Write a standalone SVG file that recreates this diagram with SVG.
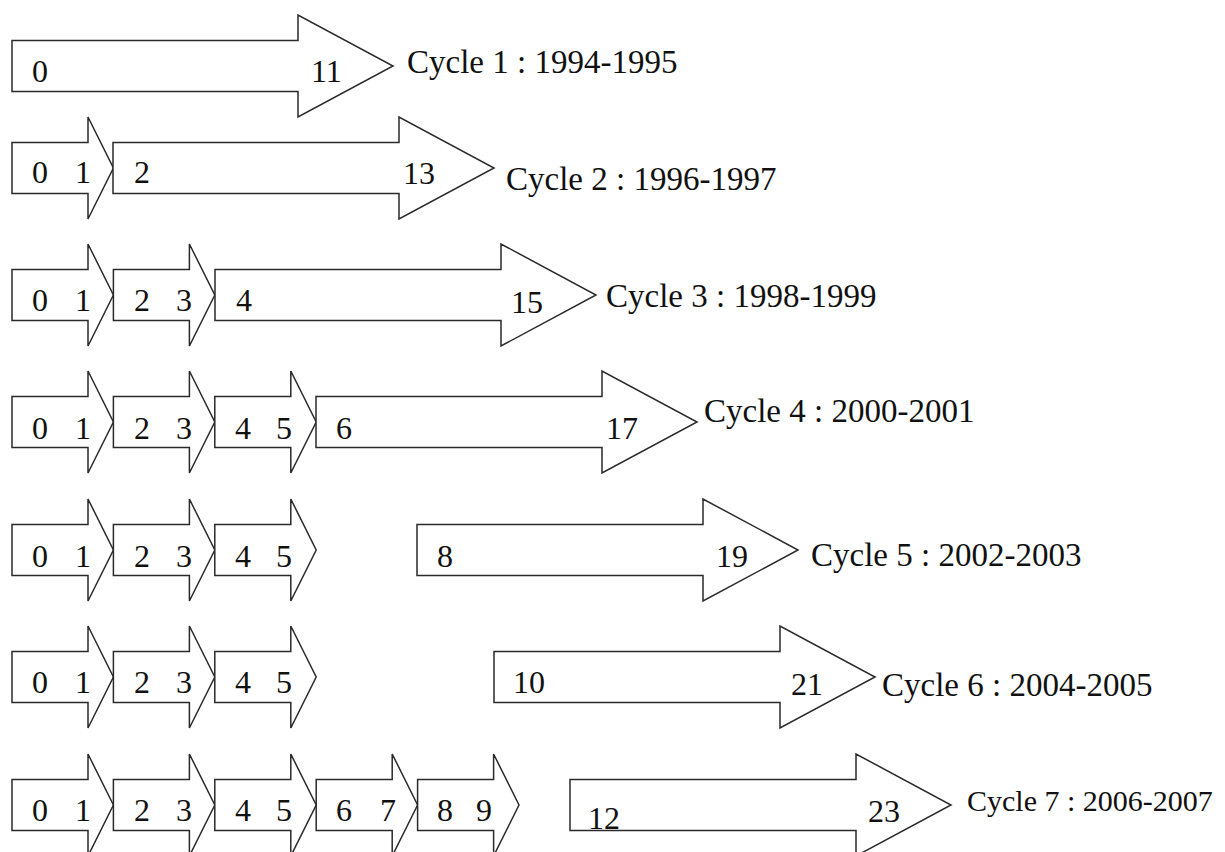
<svg xmlns="http://www.w3.org/2000/svg" xmlns:xlink="http://www.w3.org/1999/xlink" width="1225" height="852" viewBox="0 0 1225 852">
<style>
.a{fill:#fff;stroke:#2a2a2a;stroke-width:1.5;stroke-linejoin:miter}
.n{font-family:"Liberation Serif","Times New Roman",serif;font-size:32px;fill:#111}
.l{font-family:"Liberation Serif","Times New Roman",serif;font-size:33px;fill:#111}
</style>
<defs>
<path id="sm" class="a" d="M0,-25.5 H76 V-51 L101.4,0 L76,51 V25.5 H0 Z"/>
<path id="bg" class="a" d="M0,-25.5 H286 V-51 L381,0 L286,51 V25.5 H0 Z"/>
</defs>
<rect width="1225" height="852" fill="#fff"/>
<g id="connectors"/>

<g id="row1">
<g id="r1-big"><use href="#bg" x="12" y="66"/><text class="n" x="32" y="82">0</text><text class="n" x="311" y="82">11</text></g>
<text class="l" x="407" y="73">Cycle 1 : 1994-1995</text>
</g>

<g id="row2">
<g id="r2-s0"><use href="#sm" x="12" y="168"/><text class="n" x="32" y="183">0</text><text class="n" x="75" y="183">1</text></g>
<g id="r2-big"><use href="#bg" x="113" y="168"/><text class="n" x="134" y="183">2</text><text class="n" x="403" y="184">13</text></g>
<text class="l" x="506" y="190">Cycle 2 : 1996-1997</text>
</g>

<g id="row3">
<g id="r3-s0"><use href="#sm" x="12" y="295"/><text class="n" x="32" y="311">0</text><text class="n" x="75" y="311">1</text></g>
<g id="r3-s1"><use href="#sm" x="113.4" y="295"/><text class="n" x="134" y="311">2</text><text class="n" x="176" y="311">3</text></g>
<g id="r3-big"><use href="#bg" x="215" y="295"/><text class="n" x="236" y="311">4</text><text class="n" x="511" y="313">15</text></g>
<text class="l" x="606" y="307">Cycle 3 : 1998-1999</text>
</g>

<g id="row4">
<g id="r4-s0"><use href="#sm" x="12" y="422"/><text class="n" x="32" y="439">0</text><text class="n" x="75" y="439">1</text></g>
<g id="r4-s1"><use href="#sm" x="113.4" y="422"/><text class="n" x="134" y="439">2</text><text class="n" x="176" y="439">3</text></g>
<g id="r4-s2"><use href="#sm" x="214.8" y="422"/><text class="n" x="235" y="439">4</text><text class="n" x="276" y="439">5</text></g>
<g id="r4-big"><use href="#bg" x="316" y="422"/><text class="n" x="336" y="439">6</text><text class="n" x="606" y="439">17</text></g>
<text class="l" x="704" y="422">Cycle 4 : 2000-2001</text>
</g>

<g id="row5">
<g id="r5-s0"><use href="#sm" x="12" y="550"/><text class="n" x="32" y="567">0</text><text class="n" x="75" y="567">1</text></g>
<g id="r5-s1"><use href="#sm" x="113.4" y="550"/><text class="n" x="134" y="567">2</text><text class="n" x="176" y="567">3</text></g>
<g id="r5-s2"><use href="#sm" x="214.8" y="550"/><text class="n" x="235" y="567">4</text><text class="n" x="276" y="567">5</text></g>
<g id="r5-big"><use href="#bg" x="417" y="550"/><text class="n" x="437" y="567">8</text><text class="n" x="716" y="567">19</text></g>
<text class="l" x="811" y="566">Cycle 5 : 2002-2003</text>
</g>

<g id="row6">
<g id="r6-s0"><use href="#sm" x="12" y="677"/><text class="n" x="32" y="693">0</text><text class="n" x="75" y="693">1</text></g>
<g id="r6-s1"><use href="#sm" x="113.4" y="677"/><text class="n" x="134" y="693">2</text><text class="n" x="176" y="693">3</text></g>
<g id="r6-s2"><use href="#sm" x="214.8" y="677"/><text class="n" x="235" y="693">4</text><text class="n" x="276" y="693">5</text></g>
<g id="r6-big"><use href="#bg" x="494" y="677"/><text class="n" x="513" y="693">10</text><text class="n" x="791" y="695">21</text></g>
<text class="l" x="882" y="696">Cycle 6 : 2004-2005</text>
</g>

<g id="row7">
<g id="r7-s0"><use href="#sm" x="12" y="805"/><text class="n" x="32" y="821">0</text><text class="n" x="75" y="821">1</text></g>
<g id="r7-s1"><use href="#sm" x="113.4" y="805"/><text class="n" x="134" y="821">2</text><text class="n" x="176" y="821">3</text></g>
<g id="r7-s2"><use href="#sm" x="214.8" y="805"/><text class="n" x="235" y="821">4</text><text class="n" x="276" y="821">5</text></g>
<g id="r7-s3"><use href="#sm" x="316.2" y="805"/><text class="n" x="336" y="821">6</text><text class="n" x="380" y="821">7</text></g>
<g id="r7-s4"><use href="#sm" x="417.6" y="805"/><text class="n" x="437" y="821">8</text><text class="n" x="476" y="821">9</text></g>
<g id="r7-big"><use href="#bg" x="570" y="805"/><text class="n" x="588" y="829">12</text><text class="n" x="868" y="822">23</text></g>
<text class="l" x="967" y="811" style="font-size:30px">Cycle 7 : 2006-2007</text>
</g>
</svg>
